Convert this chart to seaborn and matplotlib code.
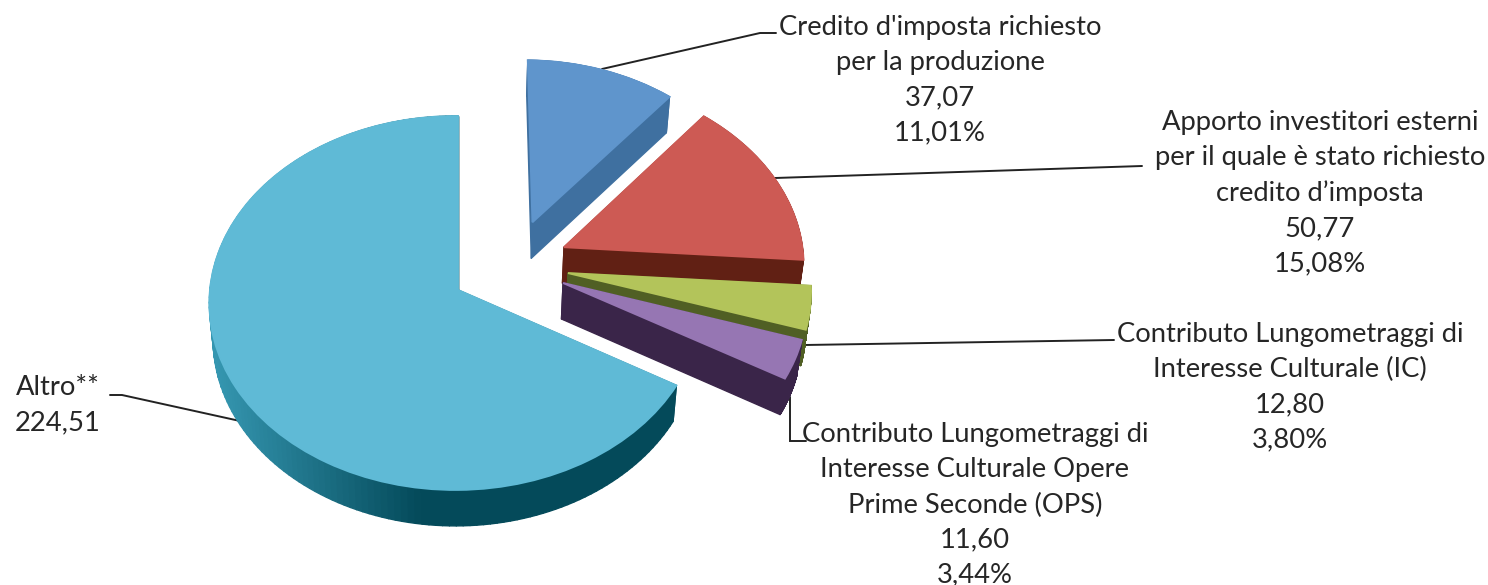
import numpy as np
import matplotlib
matplotlib.use("Agg")
import matplotlib.pyplot as plt
from matplotlib.collections import PolyCollection
from matplotlib.colors import to_rgb
from matplotlib.transforms import Transform
import seaborn as sns

# ---- data -----------------------------------------------------------
names = [
    "Credito d'imposta richiesto\nper la produzione",
    "Apporto investitori esterni\nper il quale è stato richiesto\ncredito d’imposta",
    "Contributo Lungometraggi di\nInteresse Culturale (IC)",
    "Contributo Lungometraggi di\nInteresse Culturale Opere\nPrime Seconde (OPS)",
    "Altro**",
]
values = [37.07, 50.77, 12.80, 11.60, 224.51]
percents = ["11,01%", "15,08%", "3,80%", "3,44%", None]

# ---- style ------------------------------------------------------------
top_colors = ["#5F95CC", "#CD5A54", "#B3C45A", "#9676B3", "#5FBAD6"]
side_colors = ["#3F70A0", "#612014", "#505F24", "#3A2549", "#044A5A"]
explode_xy = [(0.312, 0.375), (0.441, 0.235), (0.453, 0.092), (0.431, 0.038), (0, 0)]
radii = [0.98, 1.005, 1.01, 1.01, 1.0]
label_pos = [(940, 80), (1320, 193), (1290, 387), (975, 505), (58, 405)]
leaders = [
    [(602, 69), (760, 33), (776, 33)],
    [(775, 178), (1142, 166)],
    [(805, 345), (1114, 340)],
    [(790, 397), (790, 441), (806, 441)],
    [(240, 421), (122, 395), (110, 395)],
]
CX, CY, RX, RY, K, M = 458, 290, 245.5, 186, 0.0695, 0.01
DEPTH, SHRINK = 36, 0.985
TEAL_LIGHT = "#3596B0"

sns.set_theme(style="white")
plt.rcParams["font.family"] = ["Lato", "DejaVu Sans"]


class Perspective(Transform):
    """Maps the unit pie plane to the tilted view of the chart."""
    input_dims = output_dims = 2
    is_separable = False
    has_inverse = False

    def transform_non_affine(self, values):
        v = np.asarray(values, float)
        w = 1 + K * v[:, 1] + M * v[:, 0]
        return np.column_stack([CX + RX * v[:, 0] / w, CY - RY * v[:, 1] / w])


persp = Perspective()
fig = plt.figure(figsize=(14.88, 5.85), dpi=100, facecolor="white")
ax = fig.add_axes([0, 0, 1, 1])
wedges, _ = ax.pie(values, colors=top_colors, startangle=90, counterclock=False,
                   wedgeprops={"linewidth": 1.4})
ax.set_aspect("auto")
ax.set_xlim(0, 1488)
ax.set_ylim(585, 0)
ax.axis("off")

for i, w in enumerate(wedges):
    w.set_center(explode_xy[i])
    w.set_radius(radii[i])
    w.set_transform(persp + ax.transData)
    w.set_clip_on(False)
    w.set_zorder(3 + 2 * i)
    w.set_edgecolor(top_colors[i])

    # extruded side wall built from the slice's outline
    th = np.radians(np.linspace(w.theta1, w.theta2, 160))
    cx, cy = explode_xy[i]
    outline = np.column_stack([cx + radii[i] * np.cos(th), cy + radii[i] * np.sin(th)])
    outline = np.vstack([[cx, cy], outline, [cx, cy]])
    upper = persp.transform_non_affine(outline)
    lower = np.column_stack([CX + (upper[:, 0] - CX) * SHRINK, upper[:, 1] + DEPTH])
    quads = [[upper[j], upper[j + 1], lower[j + 1], lower[j]] for j in range(len(upper) - 1)]
    if i == 4:
        light, dark = np.array(to_rgb(TEAL_LIGHT)), np.array(to_rgb(side_colors[i]))
        t = np.clip((upper[:-1, 0] - 215) / (417 - 215), 0, 1)[:, None]
        cols = light * (1 - t) + dark * t
    else:
        cols = [to_rgb(side_colors[i])] * len(quads)
    ax.add_collection(PolyCollection(quads, facecolors=cols, edgecolors=cols,
                                     linewidths=1.0, zorder=2 + 2 * i))

for i, name in enumerate(names):
    parts = [name, f"{values[i]:.2f}".replace(".", ",")]
    if percents[i]:
        parts.append(percents[i])
    x, y = label_pos[i]
    ax.text(x, y, "\n".join(parts), ha="center", va="center", fontsize=19.7,
            color="#262626", linespacing=1.5, zorder=20)
    xs, ys = zip(*leaders[i])
    ax.plot(xs, ys, color="#222222", lw=1.4, zorder=1, solid_joinstyle="miter")

fig.savefig("out.png", dpi=100, facecolor="white")
